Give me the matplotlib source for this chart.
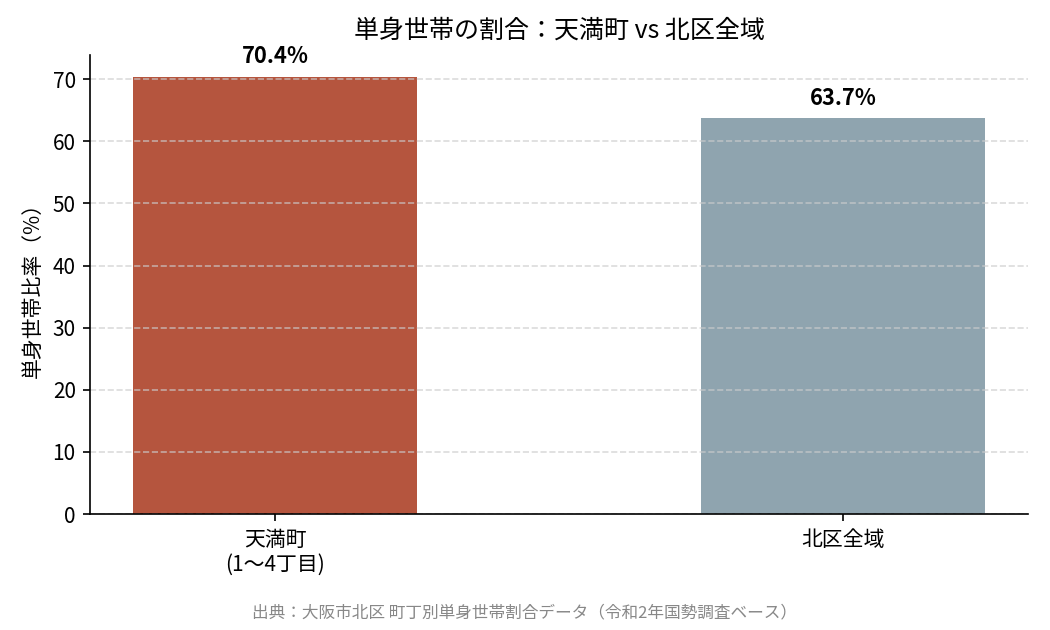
import matplotlib
matplotlib.use("Agg")
import matplotlib.pyplot as plt

plt.rcParams['font.family'] = ['Noto Sans CJK JP', 'DejaVu Sans']

# data
categories = ["天満町\n(1〜4丁目)", "北区全域"]
single_rate = [70.4, 63.7]
bar_colors = ["#B5553E", "#8FA4AF"]

fig, ax = plt.subplots(figsize=(7, 4.2), dpi=150)

bars = ax.bar(categories, single_rate, width=0.5, color=bar_colors)

for b, v in zip(bars, single_rate):
    ax.annotate(f"{v:.1f}%", (b.get_x() + b.get_width() / 2, v),
                xytext=(0, 4), textcoords="offset points",
                ha="center", va="bottom", fontsize=10.5, fontweight="bold")

ax.set_ylim(0, max(single_rate) * 1.05)
ax.set_ylabel("単身世帯比率（%）", fontsize=10)
ax.set_title("単身世帯の割合：天満町 vs 北区全域", fontsize=12, pad=8)

ax.yaxis.grid(True, linestyle="--", color="#cccccc", alpha=0.7)
ax.set_axisbelow(False)
for s in ["left", "bottom"]:
    ax.spines[s].set_zorder(5)
ax.spines["top"].set_visible(False)
ax.spines["right"].set_visible(False)
ax.tick_params(labelsize=10)

fig.text(0.5, 0.02, "出典：大阪市北区 町丁別単身世帯割合データ（令和2年国勢調査ベース）",
         ha="center", fontsize=8, color="#888888")

fig.subplots_adjust(left=0.086, right=0.979, top=0.913, bottom=0.184)
fig.savefig("out.png", dpi=150)
